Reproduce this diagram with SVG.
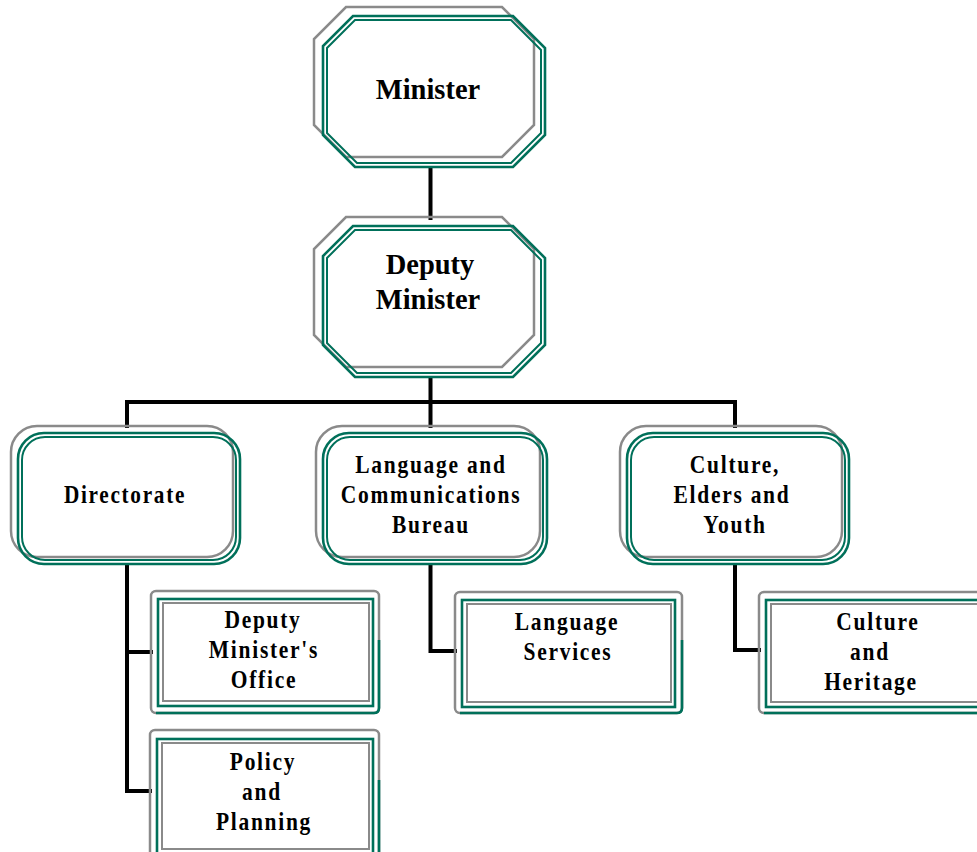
<svg xmlns="http://www.w3.org/2000/svg" width="977" height="852" viewBox="0 0 977 852">
<style>
.g{fill:none;stroke:#8a8a8a;stroke-width:2.5}
.t{fill:none;stroke:#00705a;stroke-width:2.6}
.ti{fill:none;stroke:#00705a;stroke-width:2}
.c{fill:none;stroke:#000;stroke-width:4;stroke-linecap:square}
.h1{font-family:"Liberation Serif","Times New Roman",serif;font-weight:bold;font-size:28.5px;fill:#000;text-anchor:middle}
.h2{font-family:"Liberation Serif","Times New Roman",serif;font-weight:bold;font-size:25px;fill:#000;text-anchor:middle;letter-spacing:2px}
</style>
<rect width="977" height="852" fill="#fff"/>
<g id="connectors">
<path class="c" d="M430.5 168V218M430.5 378V402M127 402H735M127 402V426M430.5 402V426M735 402V426"/>
<path class="c" d="M127 565V791H150M127 652H151"/>
<path class="c" d="M430.5 565V651H455"/>
<path class="c" d="M735 565V650H759"/>
</g>
<g id="minister">
<polygon class="g" points="346,7 502,7 534,39 534,125 502,157 346,157 314,125 314,39"/>
<polygon class="t" points="353,16 513,16 545,48 545,135 513,167 355,167 323,135 323,46"/>
<polygon class="ti" points="355,20 511,20 541,50 541,133 511,163 357,163 327,133 327,48"/>
<text class="h1" x="428" y="99">Minister</text>
</g>
<g id="deputy-minister">
<polygon class="g" points="346,217 502,217 534,249 534,335 502,367 346,367 314,335 314,249"/>
<polygon class="t" points="353,226 513,226 545,258 545,345 513,377 355,377 323,345 323,256"/>
<polygon class="ti" points="355,230 511,230 541,260 541,343 511,373 357,373 327,343 327,258"/>
<text class="h1" x="430" y="274">Deputy</text>
<text class="h1" x="428" y="309">Minister</text>
</g>
<g id="directorate">
<rect class="g" x="11" y="426" width="222" height="131" rx="26"/>
<rect class="t" x="18" y="433" width="222" height="131" rx="26"/>
<rect class="ti" x="22" y="437" width="214" height="123" rx="23"/>
<text class="h2" transform="translate(125,503) scale(0.85,1)">Directorate</text>
</g>
<g id="language-communications">
<rect class="g" x="316" y="426" width="224" height="131" rx="26"/>
<rect class="t" x="323" y="433" width="224" height="131" rx="26"/>
<rect class="ti" x="327" y="437" width="216" height="123" rx="23"/>
<text class="h2" transform="translate(431,473) scale(0.86,1)">Language and</text>
<text class="h2" transform="translate(431,503) scale(0.86,1)">Communications</text>
<text class="h2" transform="translate(431,533) scale(0.86,1)">Bureau</text>
</g>
<g id="culture-elders-youth">
<rect class="g" x="620" y="426" width="222" height="131" rx="26"/>
<rect class="t" x="627" y="433" width="222" height="131" rx="26"/>
<rect class="ti" x="631" y="437" width="214" height="123" rx="23"/>
<text class="h2" transform="translate(735,473) scale(0.86,1)">Culture,</text>
<text class="h2" transform="translate(732,503) scale(0.86,1)">Elders and</text>
<text class="h2" transform="translate(735,533) scale(0.86,1)">Youth</text>
</g>
<g id="dm-office">
<rect class="g" x="151" y="591" width="228" height="122" rx="5"/>
<path class="t" d="M379 640V708Q379 713 374 713H156"/>
<rect class="t" x="158" y="599" width="215" height="107"/>
<rect class="g" x="163" y="603" width="206" height="98" style="stroke-width:2"/>
<text class="h2" transform="translate(263,628) scale(0.86,1)">Deputy</text>
<text class="h2" transform="translate(264,658) scale(0.86,1)">Minister's</text>
<text class="h2" transform="translate(264,688) scale(0.86,1)">Office</text>
</g>
<g id="policy-planning">
<rect class="g" x="150" y="730" width="229" height="132" rx="5"/>
<path class="t" d="M379 780V862"/>
<rect class="t" x="157" y="739" width="216" height="118"/>
<rect class="g" x="162" y="743" width="207" height="106" style="stroke-width:2"/>
<text class="h2" transform="translate(263,770) scale(0.86,1)">Policy</text>
<text class="h2" transform="translate(262,800) scale(0.86,1)">and</text>
<text class="h2" transform="translate(264,830) scale(0.86,1)">Planning</text>
</g>
<g id="language-services">
<rect class="g" x="455" y="592" width="227" height="121" rx="5"/>
<path class="t" d="M682 640V708Q682 713 677 713H460"/>
<rect class="t" x="462" y="600" width="213" height="107"/>
<rect class="g" x="467" y="604" width="204" height="98" style="stroke-width:2"/>
<text class="h2" transform="translate(567,630) scale(0.86,1)">Language</text>
<text class="h2" transform="translate(568,660) scale(0.86,1)">Services</text>
</g>
<g id="culture-heritage">
<rect class="g" x="759" y="592" width="240" height="121" rx="5"/>
<path class="t" d="M764 713H990"/>
<rect class="t" x="766" y="600" width="226" height="107"/>
<rect class="g" x="771" y="604" width="217" height="98" style="stroke-width:2"/>
<text class="h2" transform="translate(878,630) scale(0.86,1)">Culture</text>
<text class="h2" transform="translate(870,660) scale(0.86,1)">and</text>
<text class="h2" transform="translate(871,690) scale(0.86,1)">Heritage</text>
</g>
</svg>
